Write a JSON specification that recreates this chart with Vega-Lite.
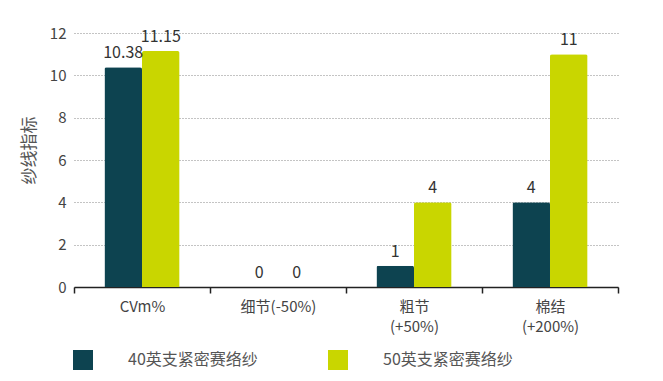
{
  "$schema": "https://vega.github.io/schema/vega-lite/v6.json",
  "width": 544,
  "height": 254,
  "autosize": {"type": "none"},
  "padding": {"left": 74, "top": 33, "right": 45, "bottom": 94},
  "background": "white",
  "config": {
    "font": "Noto Sans CJK SC",
    "view": {"stroke": null}
  },
  "data": {
    "values": [
      {"category": "CVm%", "series": "40英支紧密赛络纱", "value": 10.38},
      {"category": "CVm%", "series": "50英支紧密赛络纱", "value": 11.15},
      {"category": "细节(-50%)", "series": "40英支紧密赛络纱", "value": 0},
      {"category": "细节(-50%)", "series": "50英支紧密赛络纱", "value": 0},
      {"category": "粗节|(+50%)", "series": "40英支紧密赛络纱", "value": 1},
      {"category": "粗节|(+50%)", "series": "50英支紧密赛络纱", "value": 4},
      {"category": "棉结|(+200%)", "series": "40英支紧密赛络纱", "value": 4},
      {"category": "棉结|(+200%)", "series": "50英支紧密赛络纱", "value": 11}
    ]
  },
  "encoding": {
    "x": {
      "field": "category",
      "type": "nominal",
      "sort": null,
      "scale": {"paddingInner": 0, "paddingOuter": 0},
      "axis": {
        "title": null,
        "labelAngle": 0,
        "labelExpr": "split(datum.label, '|')",
        "labelFontSize": 15,
        "labelColor": "#444444",
        "labelPadding": 6,
        "labelLineHeight": 20,
        "domainColor": "#222222",
        "domainWidth": 1.5,
        "tickColor": "#222222",
        "tickWidth": 1.5,
        "tickSize": 6,
        "tickOffset": 0,
        "tickBand": "extent",
        "grid": false
      }
    },
    "xOffset": {
      "field": "series",
      "type": "nominal",
      "scale": {"paddingInner": 0, "paddingOuter": 0.81}
    },
    "y": {
      "field": "value",
      "type": "quantitative",
      "scale": {"domain": [0, 12]},
      "axis": {
        "title": "纱线指标",
        "titleFontSize": 17,
        "titleFontWeight": "normal",
        "titleColor": "#555555",
        "titlePadding": 11,
        "titleY": 117,
        "values": [0, 2, 4, 6, 8, 10, 12],
        "labelFontSize": 15,
        "labelColor": "#444444",
        "labelPadding": 8,
        "ticks": false,
        "domain": false,
        "grid": true,
        "gridColor": "#888888",
        "gridDash": [1, 2],
        "gridWidth": 1
      }
    }
  },
  "layer": [
    {
      "mark": {"type": "bar", "cornerRadiusTopLeft": 2, "cornerRadiusTopRight": 2},
      "encoding": {
        "color": {
          "field": "series",
          "type": "nominal",
          "scale": {"range": ["#0d4350", "#c9d600"]},
          "legend": {
            "title": null,
            "orient": "none",
            "direction": "horizontal",
            "legendX": -1,
            "legendY": 317,
            "padding": 0,
            "symbolType": "square",
            "symbolSize": 400,
            "symbolStrokeWidth": 0,
            "symbolOpacity": 1,
            "labelFontSize": 16,
            "labelColor": "#555555",
            "labelOffset": 35,
            "columnPadding": 70
          }
        }
      }
    },
    {
      "mark": {"type": "text", "dy": -14, "fontSize": 16, "color": "#333333"},
      "encoding": {
        "text": {"field": "value", "type": "nominal"}
      }
    }
  ]
}
